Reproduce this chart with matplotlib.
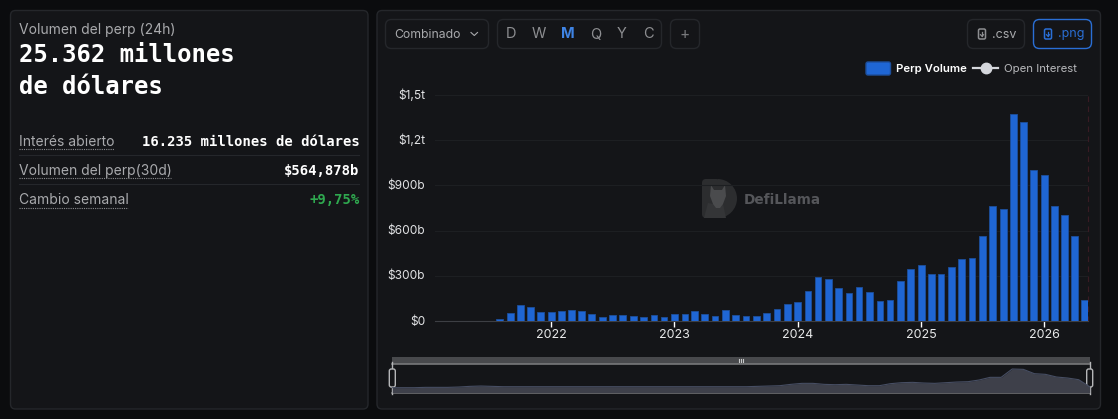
#!/usr/bin/env python3
import matplotlib
matplotlib.use('Agg')
import matplotlib.dates as mdates
import matplotlib.pyplot as plt
import pandas as pd
from matplotlib.patches import FancyBboxPatch, Polygon, Rectangle, Wedge

W, H = 1118, 419

# Monthly perp volume in $b, Feb 2021 to May 2026
vol_2021 = [0.3, 0.5, 1, 1.5, 2, 2, 13, 53, 106, 91, 60]
vol_2022 = [62, 66, 73, 64, 44, 29, 38, 42, 35, 24, 42, 24]
vol_2023 = [46, 49, 64, 46, 35, 73, 40, 33, 33, 51, 82, 113]
vol_2024 = [126, 201, 294, 281, 221, 186, 226, 192, 133, 139, 265, 345]
vol_2025 = [369, 314, 310, 356, 411, 420, 564, 763, 743, 1374, 1318, 1002]
vol_2026 = [969, 761, 706, 564, 137]
perp_volume = vol_2021 + vol_2022 + vol_2023 + vol_2024 + vol_2025 + vol_2026
months = pd.date_range('2021-02-01', periods=len(perp_volume), freq='MS')

# Slider shadow, one value per month, relative height
overview = [15, 15, 15, 16, 16, 16, 17, 19, 20, 19, 18, 18, 18, 18, 18, 18, 18,
            18, 18, 18, 18, 18, 18, 18, 18, 18, 18, 18, 18, 18, 18, 18, 18,
            19, 20, 21, 25, 28, 28, 25, 24, 25, 23, 21, 21, 27, 30, 31, 29,
            28, 30, 32, 33, 38, 46, 46, 71, 70, 57, 55, 47, 44, 39, 18]

y_ticks = [0, 300, 600, 900, 1200, 1500]
y_labels = ['$0', '$300b', '$600b', '$900b', '$1,2t', '$1,5t']
years = ['2022', '2023', '2024', '2025', '2026']
ranges = ['D', 'W', 'M', 'Q', 'Y', 'C']

BG = '#0b0c0e'
PANEL = '#141518'
BORDER = '#25272b'
BLUE = '#1f66d4'
MUTED = '#a9aaad'
MONO = 'DejaVu Sans Mono'
plt.rcParams['font.family'] = ['Inter', 'DejaVu Sans']


def axes_px(left, top, right, bottom):
    return fig.add_axes([left / W, 1 - bottom / H, (right - left) / W, (bottom - top) / H])


def box(left, top, right, bottom, radius=5, face=PANEL, edge=BORDER, lw=1.0, z=1):
    ui.add_patch(FancyBboxPatch((left, top), right - left, bottom - top,
                                boxstyle=f'round,pad=0,rounding_size={radius}',
                                fc=face, ec=edge, lw=lw, zorder=z))


def file_icon(x, y, color):
    ui.add_patch(FancyBboxPatch((x - 3.5, y - 5), 7, 10, boxstyle='round,pad=0,rounding_size=1.5',
                                fc='none', ec=color, lw=1.1, zorder=3))
    ui.plot([x, x], [y - 1.5, y + 2], color=color, lw=0.9, zorder=3)
    ui.plot([x - 1.5, x, x + 1.5], [y + 0.7, y + 2.3, y + 0.7], color=color, lw=0.9, zorder=3)


fig = plt.figure(figsize=(W / 100, H / 100), dpi=100, facecolor=BG)

# Page elements are placed in pixel coordinates
ui = fig.add_axes([0, 0, 1, 1])
ui.set_xlim(0, W)
ui.set_ylim(H, 0)
ui.axis('off')

box(10.5, 10.5, 368, 409, radius=5)
box(377, 10.5, 1100.5, 409, radius=5)

# Left stats panel
ui.text(19, 30, 'Volumen del perp (24h)', color=MUTED, fontsize=10, va='center')
ui.text(19, 55, '25.362 millones', color='white', fontsize=17.2, family=MONO,
        weight='bold', va='center')
ui.text(19, 87, 'de dólares', color='white', fontsize=17.2, family=MONO,
        weight='bold', va='center')

rows = [('Interés abierto', '16.235 millones de dólares', 'white', 141, 114),
        ('Volumen del perp(30d)', '$564,878b', 'white', 170, 171),
        ('Cambio semanal', '+9,75%', '#2fa84f', 199, 128)]
for label, value, color, y, end in rows:
    ui.text(19, y + 1, label, color=MUTED, fontsize=10, va='center')
    ui.plot([19, end], [y + 8.5, y + 8.5], color='#8a8b8e', lw=0.8, ls=(0, (1, 1)))
    ui.text(359.5, y + 0.5, value, color=color, fontsize=10, family=MONO, weight='bold',
            va='center', ha='right')
for y in [155, 184]:
    ui.plot([19, 359], [y, y], color=BORDER, lw=0.8)

# Toolbar
box(385.5, 19.5, 488.5, 48.5, radius=6, face='none', z=2)
ui.text(394, 34.5, 'Combinado', color=MUTED, fontsize=8.8, va='center')
ui.plot([471, 474.3, 477.5], [32.5, 35.5, 32.5], color=MUTED, lw=0.8, zorder=3)

box(497.5, 19.5, 661.5, 48.5, radius=6, face='none', z=2)
for label, x in zip(ranges, [511, 539, 568, 596, 622, 648]):
    active = label == 'M'
    ui.text(x, 34.5, label, color='#3f84e5' if active else '#8d8e91', fontsize=10.5,
            ha='center', va='center', weight='bold' if active else 'normal')

box(670.5, 19.5, 699.5, 48.5, radius=6, face='none', z=2)
ui.text(685, 34, '+', color='#77787b', fontsize=11, ha='center', va='center')

box(967.5, 19.5, 1024.5, 48.5, radius=6, face='none', z=2)
file_icon(982, 34, '#8d8e91')
ui.text(992, 34.5, '.csv', color=MUTED, fontsize=9, va='center')
box(1033.5, 19.5, 1091.5, 48.5, radius=6, face='none', edge='#2a6fd6', z=2)
file_icon(1048, 34, '#2a6fd6')
ui.text(1058, 34.5, '.png', color='#2a6fd6', fontsize=9, va='center')

# Legend
box(866, 62, 890.5, 75, radius=2, face=BLUE, edge='#1d4f9c')
ui.text(896, 68.5, 'Perp Volume', color='white', fontsize=8.2, weight='semibold', va='center')
ui.plot([973, 998], [68, 68], color='#d5d7dc', lw=1.6, zorder=3)
ui.plot([985.5], [68], 'o', color='#d5d7dc', ms=7.5, zorder=4)
ui.text(1004, 68.5, 'Open Interest', color='#b8b9bc', fontsize=8.2, va='center')

# Watermark
ui.add_patch(FancyBboxPatch((702, 179), 18, 39, boxstyle='round,pad=0,rounding_size=4',
                            fc='#2c2d2f', ec='none', zorder=2))
ui.add_patch(Wedge((717.5, 198.5), 19.5, -90, 90, fc='#2c2d2f', ec='none', zorder=2))
ui.add_patch(Polygon([(711, 185), (714, 190), (722, 190), (725, 185), (726, 196), (723, 204),
                      (720, 208), (716, 208), (713, 204), (710, 196)],
                     fc='#4a4b4d', ec='none', zorder=3))
ui.add_patch(Polygon([(704, 218), (708, 203), (713, 204), (723, 204), (726, 218)],
                     fc='#343537', ec='none', zorder=2.5))
ui.text(744, 200, 'DefiLlama', color='#55565a', fontsize=9.8, family='DejaVu Sans',
        weight='bold', va='center')

# Main chart
ax = axes_px(435, 95, 1088.3, 321)
ax.patch.set_alpha(0)
dates = mdates.date2num(months)
ax.bar(dates, perp_volume, width=20, color=BLUE, edgecolor='#1d4f9c', linewidth=0.6, zorder=3)

px_per_day = (1044.3 - 551.3) / (mdates.date2num(pd.Timestamp('2026-01-01')) -
                                 mdates.date2num(pd.Timestamp('2022-01-01')))
x_2022 = mdates.date2num(pd.Timestamp('2022-01-01'))
ax.set_xlim(x_2022 - (551.3 - 435) / px_per_day, x_2022 + (1088.3 - 551.3) / px_per_day)
ax.set_ylim(0, 1500)

ax.set_yticks(y_ticks)
ax.set_yticklabels(y_labels)
ax.set_xticks([mdates.date2num(pd.Timestamp(f'{y}-01-01')) for y in years])
ax.set_xticklabels(years)
ax.tick_params(axis='y', length=0, pad=7, colors='#e2e3e5', labelsize=8.6)
for label in ax.get_yticklabels():
    label.set_y(label.get_position()[1])
    label.set_transform(label.get_transform() + matplotlib.transforms.ScaledTranslation(0, 1 / 100, fig.dpi_scale_trans))
ax.tick_params(axis='x', length=4, width=1, pad=2, color='white', labelcolor='#e8e9ea', labelsize=9)
ax.grid(axis='y', color='#1d1f22', lw=0.8, zorder=0)
for side in ['top', 'left']:
    ax.spines[side].set_visible(False)
ax.spines['bottom'].set_color('#3d3f44')
ax.spines['right'].set_color('#3a1b24')
ax.spines['right'].set_linestyle((0, (4, 5)))
ax.spines['right'].set_linewidth(0.8)

# Range slider
ui.add_patch(Rectangle((392.3, 357.3), 697.4, 6.7, fc='#48494c', ec='none', zorder=2))
for x in [739, 741, 743]:
    ui.plot([x, x], [359, 362], color='#c8c9cb', lw=0.8, zorder=3)

mini = axes_px(392.3, 364, 1089.7, 392.7)
mini.patch.set_alpha(0)
mini.fill_between(range(len(overview)), overview, color='#3e404a', lw=0)
mini.plot(range(len(overview)), overview, color='#474e63', lw=0.8)
mini.set_xlim(0, len(overview) - 1)
mini.set_ylim(0, 86)
mini.axis('off')

for y in [364, 392.7]:
    ui.plot([392.3, 1089.7], [y, y], color='#77787a', lw=1.2, zorder=5)
for x in [392.3, 1089.7]:
    ui.plot([x, x], [362, 394], color='#b5b6b8', lw=1.0, zorder=5)
    box(x - 3, 369, x + 3, 387, radius=2, face=PANEL, edge='#b5b6b8', lw=1.0, z=6)

plt.savefig('out.png', dpi=100, facecolor=BG)
